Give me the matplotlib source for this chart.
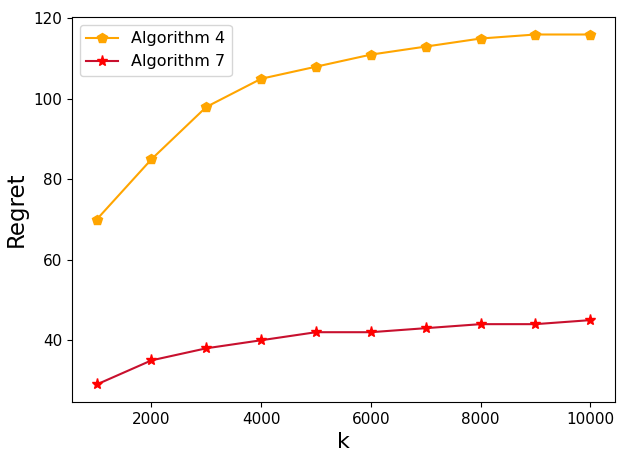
import matplotlib
matplotlib.use('Agg')
import matplotlib.pyplot as plt

k = [1000, 2000, 3000, 4000, 5000, 6000, 7000, 8000, 9000, 10000]
alg4 = [70, 85, 98, 105, 108, 111, 113, 115, 116, 116]
alg7 = [29, 35, 38, 40, 42, 42, 43, 44, 44, 45]

fig = plt.figure(figsize=(6.28, 4.71), dpi=100)
ax = fig.add_axes([0.1146, 0.1465, 0.8646, 0.8174])
ax.plot(k, alg4, color='orange', marker='p', markersize=7, label='Algorithm 4')
ax.plot(k, alg7, color='#c8102e', marker='*', markersize=8,
        markerfacecolor='red', markeredgecolor='red', label='Algorithm 7')
ax.set_xlabel('k', fontsize=16)
ax.set_ylabel('Regret', fontsize=16.5)
ax.tick_params(labelsize=11)
ax.legend(loc='upper left', fontsize=11.5)
fig.savefig('out.png')
